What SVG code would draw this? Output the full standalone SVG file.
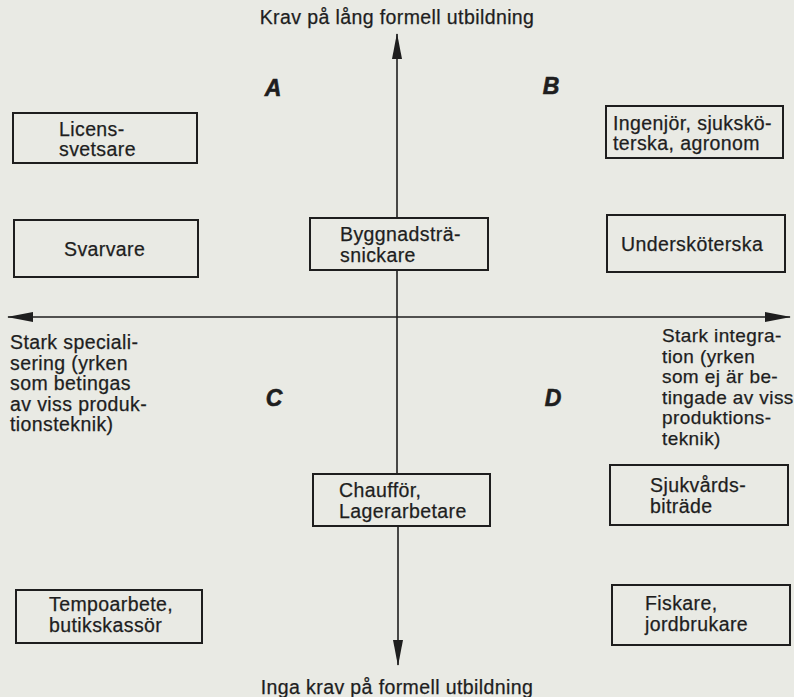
<svg xmlns="http://www.w3.org/2000/svg" width="794" height="697" viewBox="0 0 794 697">
<defs>
<style>
text{font-family:"Liberation Sans",Arial,sans-serif;font-size:19.5px;fill:#1e1e1e;letter-spacing:0.4px;stroke:#1e1e1e;stroke-width:0.25}
.q{font-weight:bold;font-style:italic;font-size:23px;text-anchor:middle;letter-spacing:0;stroke-width:0.6}
.r{font-size:19px}
.box{fill:none;stroke:#1e1e1e;stroke-width:2}
.ax{stroke:#1e1e1e;stroke-width:1.6;fill:none}
.mid{text-anchor:middle}
</style>
<marker id="ah" viewBox="0 0 26 10" refX="25" refY="5" markerWidth="26" markerHeight="10" markerUnits="userSpaceOnUse" orient="auto">
<path d="M0,0 L26,5 L0,10 Z" fill="#1e1e1e"/>
</marker>
</defs>
<rect width="794" height="697" fill="#e9eae4"/>

<g id="connectors">
<line class="ax" x1="397" y1="218" x2="397" y2="34" marker-end="url(#ah)"/>
<line class="ax" x1="397" y1="270" x2="397" y2="474"/>
<line class="ax" x1="398" y1="526" x2="398" y2="665" marker-end="url(#ah)"/>
<line class="ax" x1="400" y1="317" x2="8" y2="317" marker-end="url(#ah)"/>
<line class="ax" x1="400" y1="317" x2="790" y2="317" marker-end="url(#ah)"/>
</g>

<g id="axis-labels">
<text class="mid" x="397" y="24">Krav på lång formell utbildning</text>
<text class="mid" x="397" y="694">Inga krav på formell utbildning</text>
<g id="left-label">
<text x="10" y="349">Stark speciali-</text>
<text x="10" y="369.5">sering (yrken</text>
<text x="10" y="390">som betingas</text>
<text x="10" y="410.5">av viss produk-</text>
<text x="10" y="431">tionsteknik)</text>
</g>
<g id="right-label">
<text class="r" x="662" y="342">Stark integra-</text>
<text class="r" x="662" y="362.5">tion (yrken</text>
<text class="r" x="662" y="383">som ej är be-</text>
<text class="r" x="662" y="403.5">tingade av viss</text>
<text class="r" x="662" y="424">produktions-</text>
<text class="r" x="662" y="444.5">teknik)</text>
</g>
</g>

<g id="quadrants">
<text class="q" x="273" y="96">A</text>
<text class="q" x="551" y="94">B</text>
<text class="q" x="274" y="406">C</text>
<text class="q" x="553" y="406">D</text>
</g>

<g id="licenssvetsare">
<rect class="box" x="13" y="113" width="184" height="50"/>
<text x="59" y="136">Licens-</text>
<text x="59" y="156">svetsare</text>
</g>
<g id="svarvare">
<rect class="box" x="14" y="220" width="184" height="57"/>
<text x="64" y="255.5">Svarvare</text>
</g>
<g id="ingenjor">
<rect class="box" x="606" y="106" width="177" height="52"/>
<text x="613" y="130">Ingenjör, sjukskö-</text>
<text x="613" y="150">terska, agronom</text>
</g>
<g id="underskoterska">
<rect class="box" x="607" y="215" width="178" height="57"/>
<text x="621" y="251">Undersköterska</text>
</g>
<g id="byggnadstra">
<rect class="box" x="310" y="218" width="178" height="52"/>
<text x="340" y="241">Byggnadsträ-</text>
<text x="340" y="261.5">snickare</text>
</g>
<g id="chauffor">
<rect class="box" x="313" y="474" width="177" height="52"/>
<text x="339" y="497">Chaufför,</text>
<text x="339" y="517.5">Lagerarbetare</text>
</g>
<g id="sjukvardsbitrade">
<rect class="box" x="610" y="465" width="178" height="60"/>
<text x="650" y="491.5">Sjukvårds-</text>
<text x="650" y="513">biträde</text>
</g>
<g id="fiskare">
<rect class="box" x="612" y="585" width="178" height="60"/>
<text x="645" y="609.5">Fiskare,</text>
<text x="645" y="631">jordbrukare</text>
</g>
<g id="tempoarbete">
<rect class="box" x="16" y="590" width="186" height="53"/>
<text x="49" y="611">Tempoarbete,</text>
<text x="49" y="632">butikskassör</text>
</g>
</svg>
